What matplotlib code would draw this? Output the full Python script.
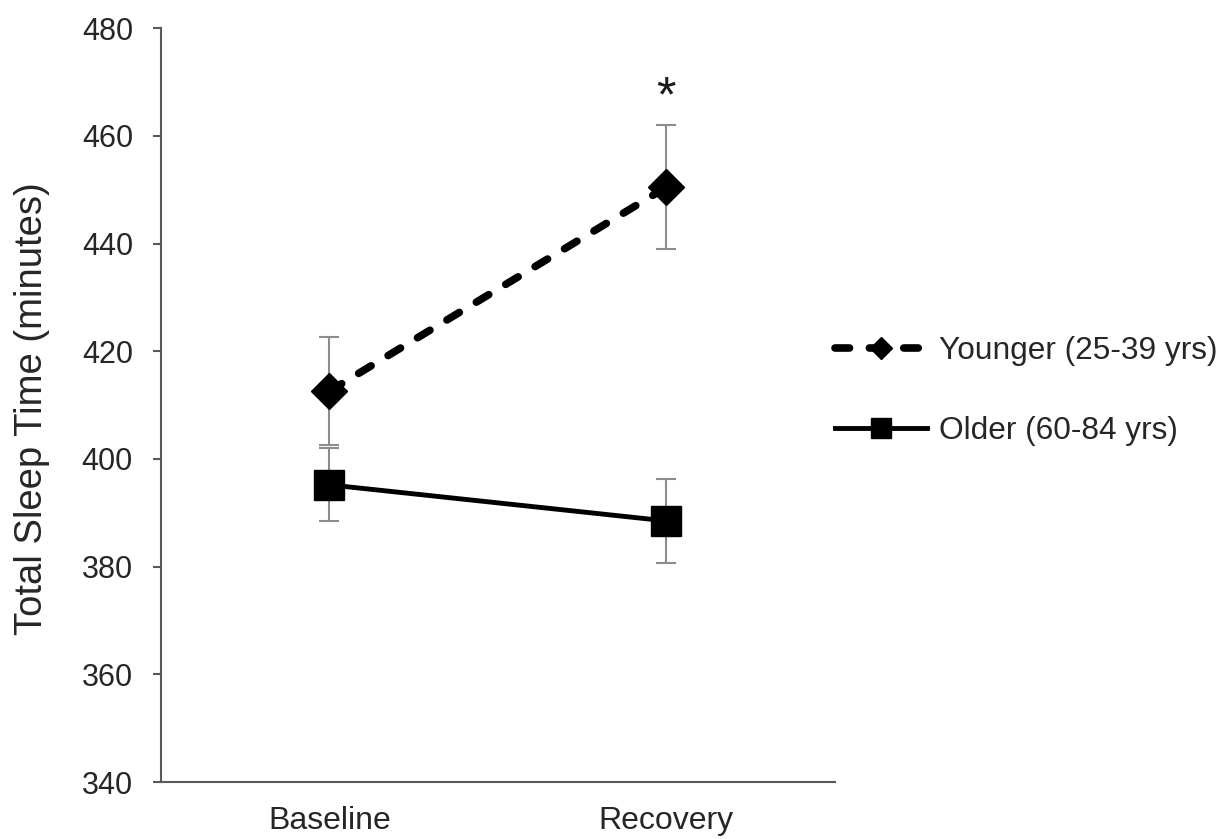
import numpy as np
import matplotlib.pyplot as plt
from matplotlib.lines import Line2D

plt.rcParams.update({
    "font.family": ["Liberation Sans", "DejaVu Sans"],
    "font.size": 22,
    "axes.linewidth": 1.5,
    "axes.edgecolor": "#595959",
    "xtick.color": "#595959",
    "ytick.color": "#595959",
    "xtick.labelcolor": "#262626",
    "ytick.labelcolor": "#262626",
})

groups = ["Baseline", "Recovery"]
younger = [412.6, 450.5]
younger_err = [10.0, 11.5]
older = [395.2, 388.5]
older_err = [6.8, 7.8]
yticks = [340, 360, 380, 400, 420, 440, 460, 480]

x = np.arange(len(groups))

fig = plt.figure(figsize=(12.25, 8.39), dpi=100)
ax = fig.add_axes([0.1312, 0.0679, 0.6816 - 0.1312, 0.9663 - 0.0679])

# error bars behind the markers
err_kw = dict(fmt="none", ecolor="#8c8c8c", elinewidth=1.5, capsize=7, capthick=1.5, zorder=2)
ax.errorbar(x, younger, yerr=younger_err, **err_kw)
ax.errorbar(x, older, yerr=older_err, **err_kw)

ax.plot(x, younger, color="black", lw=5.5, linestyle=(0, (1.9, 2.6)),
        dash_capstyle="round", marker="D", ms=18, mfc="black", mec="black",
        mew=1, zorder=3, label="Younger (25-39 yrs)")
ax.plot(x, older, color="black", lw=3.5, marker="s", ms=21, mfc="black",
        mec="black", mew=1, zorder=3, label="Older (60-84 yrs)")

# significance marker above the younger recovery point
ax.text(x[1], 464.5, "*", ha="center", va="baseline", fontsize=36, color="#1a1a1a")

ax.set_xlim(-0.5, 1.5)
ax.set_ylim(340, 480)
ax.set_yticks(yticks)
ax.set_xticks(x)
ax.set_xticklabels(groups, fontsize=23)
ax.tick_params(axis="y", direction="out", length=6, width=1.5, pad=14)
ax.tick_params(axis="x", length=0, pad=17)

ax.spines["top"].set_visible(False)
ax.spines["right"].set_visible(False)

ax.set_ylabel("Total Sleep Time (minutes)", color="#262626", fontsize=27.5)
ax.yaxis.set_label_coords(-0.164, 0.495)

handles = [
    Line2D([], [], color="black", lw=5.5, linestyle=(0, (1.9, 2.6)),
           dash_capstyle="round", marker="D", ms=11, mfc="black", mec="black"),
    Line2D([], [], color="black", lw=3.5, marker="s", ms=14, mfc="black", mec="black"),
]
fig.legend(handles, ["Younger (25-39 yrs)", "Older (60-84 yrs)"],
           loc="upper left", bbox_to_anchor=(0.6816, 0.600), frameon=False,
           borderaxespad=0, borderpad=0, handlelength=2.9, handletextpad=0.38,
           labelspacing=1.58, fontsize=22.8, labelcolor="#262626")

fig.savefig("out.png", dpi=100)
